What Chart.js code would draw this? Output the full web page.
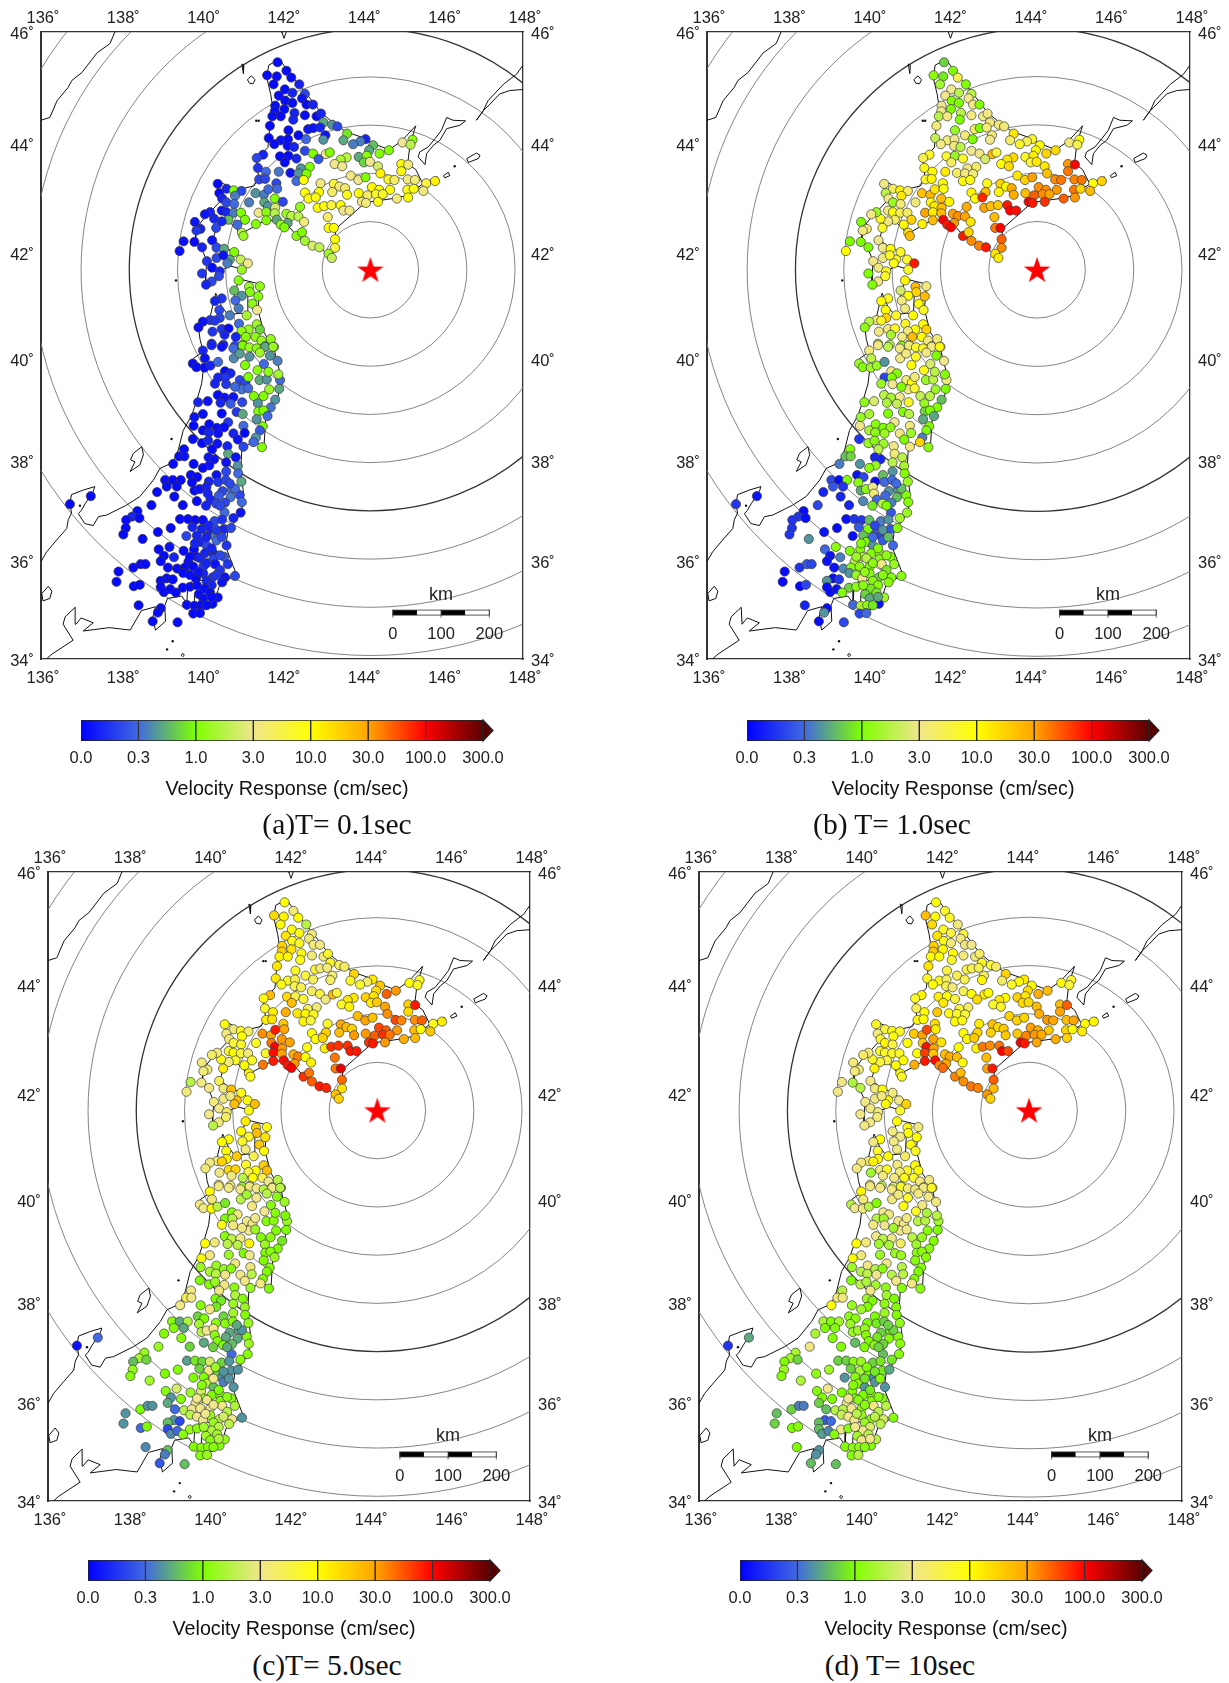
<!DOCTYPE html>
<html>
<head>
<meta charset="utf-8">
<title>Velocity Response maps</title>
<script src="https://cdn.jsdelivr.net/npm/chart.js@4"></script>
<style>
  html, body { margin: 0; padding: 0; background: #fff; overflow: hidden; }
  #page { position: relative; width: 1229px; height: 1683px; }
  canvas { position: absolute; }
  .caption { position: absolute; width: 300px; text-align: center; font: 29.5px "Liberation Serif", serif; color: #111; white-space: pre; }
</style>
</head>
<body>
<div id="page"></div>
<script>
// Stations (degrees)
const stationLon = [
  141.89,142.11,141.63,141.87,142.23,141.79,142.43,142.07,142.26,142.57,
  141.92,142.08,142.50,142.26,142.61,142.77,141.83,142.06,141.82,142.31,
  141.76,141.97,142.57,142.86,142.97,142.28,143.03,143.25,143.38,141.70,
  142.16,142.65,142.78,142.95,143.62,141.67,142.41,143.08,143.03,143.53,
  144.08,143.95,143.77,144.27,142.60,141.97,142.15,141.81,142.14,142.30,
  144.17,144.43,144.66,145.00,145.25,145.20,142.57,142.77,143.09,143.19,
  141.53,141.37,141.95,142.16,142.36,142.07,142.91,143.61,143.46,143.31,
  143.50,143.91,144.11,144.04,144.19,144.39,144.97,145.14,144.97,144.45,
  141.40,141.60,141.92,142.47,142.69,142.21,142.41,142.61,143.71,143.90,
  144.08,141.43,141.58,142.36,142.54,142.96,143.29,143.43,143.57,144.65,
  144.80,145.13,145.31,145.59,145.81,144.24,144.42,144.69,145.12,145.28,
  145.52,141.34,141.55,141.66,141.86,141.88,142.57,142.92,143.25,143.62,
  143.91,144.13,144.34,144.51,145.14,142.66,142.84,144.86,143.99,144.09,
  144.39,142.89,143.05,143.23,143.46,143.53,143.68,141.18,141.56,141.82,
  142.02,141.65,141.83,142.45,141.42,141.61,141.82,142.11,142.23,142.41,
  141.35,141.61,141.87,142.55,142.14,141.97,142.06,143.14,143.16,143.29,
  142.36,142.50,142.57,142.76,142.93,143.32,143.32,143.16,143.24,140.40,
  140.62,140.80,140.99,140.44,140.51,140.62,140.83,140.81,140.50,140.62,
  140.80,140.98,141.08,140.67,140.50,140.31,140.21,140.08,139.83,140.89,
  140.36,139.97,139.87,141.00,141.04,140.26,139.55,139.45,139.82,140.01,
  140.37,140.56,140.81,140.97,141.15,140.70,140.13,140.37,140.54,140.64,
  141.00,140.26,140.45,140.01,140.43,140.25,140.11,140.92,141.18,141.45,
  140.81,141.20,141.00,141.41,140.50,140.33,140.84,141.26,140.44,140.92,
  141.38,141.12,140.70,140.45,140.21,140.03,139.92,140.33,141.37,140.93,
  140.27,140.50,140.67,141.17,140.99,141.45,140.57,140.85,141.10,141.34,
  141.72,141.49,141.58,141.80,141.02,140.83,140.54,140.25,140.03,139.78,
  139.87,140.08,140.07,140.22,140.41,140.58,140.72,140.41,140.59,140.33,
  140.61,140.95,141.09,141.44,141.62,141.95,141.00,141.68,141.93,140.40,
  140.57,140.79,141.01,141.30,141.54,141.83,139.91,140.15,140.47,140.72,
  141.40,141.72,140.03,140.50,140.87,141.02,141.41,141.54,141.64,139.82,
  141.37,140.66,141.52,139.80,140.19,140.38,140.56,141.04,141.45,140.03,
  140.18,140.41,140.79,141.07,141.35,140.90,139.78,140.01,140.16,140.39,
  141.29,141.50,140.64,141.04,140.26,139.56,139.44,139.57,140.66,140.85,
  140.17,140.31,139.29,139.80,140.61,140.19,140.03,140.90,140.91,140.37,
  140.61,139.73,139.89,139.09,139.28,139.48,140.41,140.60,140.99,139.13,
  139.38,139.76,140.18,140.75,140.52,139.82,139.95,140.12,138.89,139.32,
  140.95,140.15,140.43,140.72,139.88,140.22,140.58,141.00,138.75,139.53,
  136.72,137.24,140.11,140.36,140.57,140.97,138.40,138.27,138.45,140.79,
  138.12,139.46,139.66,139.84,140.03,140.32,140.51,138.11,138.91,139.23,
  139.77,140.00,140.56,140.73,138.05,139.62,139.88,140.21,140.33,138.53,
  139.96,140.12,140.37,140.62,138.93,139.20,139.55,139.81,140.08,140.29,
  140.56,139.06,139.31,138.98,139.88,139.67,140.29,138.30,138.48,138.60,
  139.16,140.65,139.39,139.58,140.04,140.34,139.54,137.93,139.71,140.04,
  140.83,140.27,140.58,139.13,139.28,139.86,137.88,138.98,140.12,138.31,
  138.46,140.25,140.51,138.98,139.53,139.71,140.07,139.06,139.22,139.36,
  139.93,140.21,140.40,140.04,138.43,139.63,139.82,139.98,140.27,138.98,
  138.91,139.79,139.96,138.78,139.40,
  140.25,140.50,140.79,141.02,141.19,141.37,141.58,141.78,140.80,140.95,
  141.19,141.45,141.70,141.89,141.08,141.55,141.39,141.66,141.91,141.16,
  141.16,140.83,
  140.17,140.37,140.50,139.83,140.12,140.25,140.46,139.96,140.12,139.79,
  139.92,140.46,140.37,139.88,140.25,140.12,139.71,140.46,140.83,140.70
];
const stationLat = [
  45.47,45.32,45.24,45.22,45.20,45.08,45.08,44.99,44.93,44.91,
  44.88,44.79,44.83,44.75,44.72,44.72,44.70,44.64,44.60,44.57,
  44.51,44.51,44.53,44.51,44.56,44.45,44.40,44.36,44.33,44.34,
  44.26,44.28,44.30,44.31,44.20,44.12,44.17,44.17,44.09,44.08,
  44.10,44.06,44.01,43.99,44.10,44.08,44.10,44.01,43.98,43.96,
  43.90,43.84,43.90,44.04,44.09,44.00,43.89,43.84,43.83,43.86,
  43.82,43.76,43.79,43.80,43.75,43.68,43.74,43.77,43.73,43.65,
  43.61,43.78,43.80,43.68,43.69,43.61,43.65,43.64,43.52,43.48,
  43.58,43.51,43.51,43.57,43.60,43.49,43.48,43.47,43.44,43.36,
  43.41,43.37,43.38,43.34,43.36,43.30,43.29,43.24,43.21,43.37,
  43.36,43.37,43.36,43.30,43.34,43.23,43.18,43.18,43.18,43.20,
  43.16,43.12,43.09,43.19,43.30,43.20,43.13,43.14,43.14,43.09,
  43.12,43.08,43.10,43.10,43.04,43.02,43.04,43.02,42.96,42.94,
  42.96,42.85,42.88,42.90,42.90,42.80,42.80,42.95,42.95,43.02,
  42.96,42.88,42.85,42.87,42.76,42.77,42.75,42.74,42.70,42.69,
  42.55,42.62,42.63,42.59,42.57,42.54,42.49,42.68,42.48,42.48,
  42.33,42.40,42.24,42.15,42.12,42.27,42.11,42.00,41.92,43.29,
  43.20,43.17,43.16,43.12,43.02,42.95,43.07,42.92,42.80,42.77,
  42.76,42.76,42.63,42.63,42.60,42.65,42.77,42.73,42.59,42.54,
  42.48,42.46,42.43,42.39,42.33,42.25,42.23,42.05,42.22,42.12,
  42.11,42.09,42.03,41.89,41.82,41.89,41.86,41.92,41.97,41.82,
  41.70,41.74,41.67,41.63,41.58,41.48,41.42,41.50,41.38,41.39,
  41.31,41.28,41.21,41.20,41.16,41.11,41.12,41.06,40.94,40.97,
  40.94,40.84,40.84,40.79,40.75,40.72,40.61,40.74,40.67,40.68,
  40.53,40.58,40.59,40.57,40.54,40.57,40.47,40.43,40.43,40.43,
  40.39,40.36,40.25,40.24,40.28,40.26,40.28,40.30,40.17,39.92,
  39.85,40.02,39.84,39.88,39.95,39.77,39.73,39.65,39.65,39.53,
  39.52,39.60,39.55,39.60,39.61,39.60,39.42,39.42,39.43,39.31,
  39.26,39.27,39.17,39.29,39.29,39.22,39.17,39.19,39.16,39.14,
  39.15,39.07,38.94,38.95,38.98,38.94,38.99,39.01,38.90,38.88,
  38.84,38.78,38.70,38.71,38.74,38.67,38.68,38.71,38.62,38.62,
  38.58,38.56,38.56,38.57,38.48,38.44,38.45,38.37,38.42,38.36,
  38.39,38.29,38.31,38.30,38.25,38.25,38.11,38.11,38.16,38.09,
  38.09,38.05,37.96,37.96,37.99,37.93,37.88,37.92,37.77,37.74,
  37.81,37.74,37.70,37.64,37.64,37.64,37.60,37.64,37.61,37.51,
  37.51,37.59,37.61,37.45,37.42,37.43,37.46,37.50,37.40,37.31,
  37.34,37.37,37.33,37.30,37.22,37.25,37.19,37.20,37.14,37.14,
  37.16,37.32,37.13,37.17,36.99,36.99,37.02,36.91,36.88,36.88,
  36.84,36.86,36.86,36.84,36.84,36.82,36.85,36.68,36.60,36.68,
  36.70,36.66,36.66,36.68,36.55,36.52,36.53,36.57,36.52,36.46,
  36.40,36.33,36.43,36.33,36.25,36.30,36.22,36.25,36.17,36.17,
  36.10,36.12,36.09,36.01,36.10,36.00,36.05,35.88,35.95,35.95,
  35.88,35.95,35.86,35.88,35.90,35.95,35.77,35.80,35.73,35.76,
  35.71,35.68,35.68,35.66,35.64,35.66,35.59,35.61,35.61,35.50,
  35.53,35.52,35.58,35.48,35.47,35.49,35.45,35.38,35.44,35.37,
  35.34,35.37,35.27,35.25,35.11,35.12,35.10,35.11,35.14,35.05,
  34.96,34.94,34.95,34.78,34.76,
  40.27,40.24,40.21,40.26,40.23,40.21,40.24,40.24,40.02,40.11,
  40.05,40.13,40.07,39.97,39.89,39.91,39.79,39.76,39.71,39.66,
  39.44,39.47,
  36.73,36.64,36.50,36.37,36.50,36.27,36.13,36.07,35.97,35.90,
  35.79,35.83,35.73,35.52,35.28,35.11,36.10,37.13,37.47,37.57
];

// Velocity response at each station (cm/sec)
const responseA = [
  .03,.03,.03,.03,.03,.03,.1,.03,.1,.2,
  .03,.03,.05,.03,.03,.1,.03,.03,.03,.1,
  .03,.03,.03,.03,.1,.1,.6,.5,.2,.03,
  .03,.05,.05,.1,.9,.03,.03,.05,.5,.6,
  .1,.4,.4,.7,.3,.05,.03,.03,.03,.1,
  .6,1,1,3,1.2,2,.2,1,3,1,
  .1,.2,.03,.03,.1,.03,.25,2,1.8,3,
  3,.6,1.2,.8,3,2.5,10,4,9,13,
  .15,.3,.35,.5,1,.05,.5,1,3.5,3,
  1,.2,.2,.3,10,4,7,4,5,8,
  5,4,4,7,13,12,10,9,9,9,
  4,.5,.4,.3,.2,.3,10,10,5,9,
  10,5,8,8,10,10,9,4,3.5,4,
  9,10,9,7,10,3,3.5,.4,.6,1,
  .2,.5,2.5,1.3,3,1.2,2,1.5,2,2,
  1.1,1,.6,4,.6,1.2,1,5,10,10,
  1.2,1,1.7,2.5,2.2,10,7,1.6,2.3,.03,
  .1,1,.2,.03,.1,.2,.4,.3,.05,.1,
  .4,1,1,.7,.1,.1,.1,.05,.05,.3,
  .2,.1,.15,2,1.5,.05,.05,.05,.03,.1,
  .2,.6,1,2.3,3,.6,.15,.2,.05,.4,
  1.5,.03,.1,.15,.2,.2,.1,1.1,1.5,1.3,
  .7,1.2,.5,1.2,.15,.1,.3,1.3,.2,.4,
  3,1.7,.4,.2,.15,.05,.05,.15,1.6,.3,
  .15,.15,.03,1.5,1.3,.8,.1,.1,1.2,1.3,
  1.3,1.5,.5,1.3,1.1,.2,.1,.1,.1,.03,
  .03,.05,.03,.1,.3,.03,.1,.1,.15,.1,
  .15,.2,.2,.6,.5,.3,.35,1.5,.6,.03,
  .05,.05,.2,1,1,.5,.1,.05,.1,.25,
  .5,.35,.05,.03,.15,.6,1,1,.3,.05,
  .5,.15,1,.03,.03,.03,.03,.3,.25,.03,
  .1,.05,.1,.03,.5,.05,.03,.03,.1,.05,
  .3,1.1,.1,.2,.03,.03,.03,.05,.6,.05,
  .05,.05,.03,.03,.05,.05,.03,.5,.3,.05,
  .2,.03,.03,.03,.03,.03,.15,.2,.6,.03,
  .03,.03,.1,.3,.2,.03,.05,.1,.03,.03,
  .2,.1,.25,.35,.03,.1,.2,.3,.03,.03,
  .03,.03,.1,.2,.3,.05,.03,.1,.03,.1,
  .03,.03,.03,.03,.03,.2,.15,.03,.03,.03,
  .1,.1,.1,.2,.03,.2,.1,.1,.4,.03,
  .1,.2,.3,.15,.03,.05,.03,.03,.1,.1,
  .25,.03,.1,.03,.03,.03,.2,.03,.03,.03,
  .03,.15,.03,.03,.15,.05,.03,.03,.03,.1,
  .2,.15,.05,.03,.03,.02,.03,.03,.1,.03,
  .03,.1,.05,.03,.03,.03,.03,.03,.03,.03,
  .03,.03,.03,.03,.03,.03,.03,.03,.03,.03,
  .03,.03,.03,.03,.03,
  .1,.05,.3,1,1.5,1.2,.6,1.5,.45,.55,
  .5,1.6,.5,.4,1,.3,1.2,1.3,1.6,1,
  .3,.3,
  .1,.15,.2,.1,.1,.1,.2,.1,.1,.02,
  .05,.15,.15,.03,.03,.03,.03,.2,.3,.2
];
const responseB = [
  .8,1,1.2,.9,6,1.6,1,3,2,2,
  3,1,3.5,1,3.5,1,3,1,3,2,
  2,3.5,3.5,3.2,3.5,1,4,4,4,4,
  1.5,5,1,4,15,2.2,4,4,3,5,
  8,6,8,10,1,4,3,3.5,4,2,
  10,20,18,4,10,6,3,3.5,25,7,
  8,6,8,1.5,8,5,2.5,18,15,10,
  18,8,14,7,15,15,35,100,50,24,
  9,10,15,3.5,5,5,4,4,15,20,
  32,8,12,10,9,9,20,10,28,40,
  50,45,50,10,20,40,40,35,50,20,
  25,24,26,16,10,9,12,25,12,28,
  25,60,40,30,35,10,85,60,110,90,
  80,30,25,22,90,100,95,4,12,25,
  12,15,25,28,30,14,25,30,40,30,
  13,25,100,16,35,90,100,25,50,100,
  90,20,40,45,90,60,40,16,14,3.5,
  5,12,5,2,3.5,1.5,15,4,4,10,
  6,5,20,5,3.5,9,1.5,3.5,1,10,
  8,4,4,15,25,3,1,10,1,1,
  3.5,10,8,8,90,8,3.5,3.5,8,9,
  8,3.5,8,1,8,3.5,1,12,25,4,
  2.5,20,10,25,8,10,3.5,10,10,4,
  8,11,8,20,3.5,2,1.3,8,10,8,
  3.5,4,8,10,4,20,1.7,3.5,25,10,
  4,3.5,3.5,3.5,3.5,1.2,2,2,4,1.5,
  1.1,2,1.6,1.5,.5,3.5,1.2,.2,1,1.5,
  3,4,10,1.5,2,3.5,3.5,1.5,1,2,
  1.7,3,8,2.2,2,.7,1.3,2.5,1.8,2.2,
  1.5,1,1.7,1,1,2,.8,1,.6,1.5,
  .6,3,1,3,1.2,1,1.3,3.5,1,1.7,
  1.3,1.5,3.5,1.5,.4,1,.15,1.5,1.2,1.5,
  20,1.2,3,3.5,2,1.1,.7,.8,4,2,
  .1,.1,.4,.5,2,1.5,1.2,1.7,1.1,.7,
  .5,.05,.2,.2,.03,1.1,.3,.3,1.5,.25,
  .15,1.2,.03,.5,.5,.6,1.3,3,.1,.1,
  1.1,4,.3,.7,.45,.3,.4,1.1,.2,.1,
  .15,.05,.9,2,.25,1.5,.03,.15,.03,1.6,
  .15,.05,.15,.15,.7,.4,.5,.15,.05,.03,
  .25,1,.25,1.1,.15,.03,.7,.25,.2,.5,
  1,.5,.25,.3,.3,1.2,1,1.1,1.1,1.5,
  1,.05,.4,.05,2,2.2,1.3,.15,.25,.2,
  .05,1.5,.45,1.2,1.1,3.5,.5,.03,1.5,1.2,
  1.2,.8,1.2,.03,.15,3,.03,.5,1.1,.03,
  .2,1.1,1.1,.03,.8,1.2,.9,.03,.05,1.1,
  .8,.9,1.5,.6,.1,.3,1.7,1.3,.05,.03,
  .5,.2,.3,.03,.2,
  3.5,2,3.5,4,8,8,3.5,9,3.5,3.5,
  8,3.5,1,3,10,2.5,9,2,1.1,4,
  8,1,
  .2,.5,.7,1,.3,1.1,1.3,2,1.2,1.3,
  1.3,.9,1.2,1.2,.6,.9,1.5,1,.7,.3
];
const responseC = [
  10,4,18,12,10,10,2,9,9,4,
  16,9,4,8,4,3.5,20,16,20,9,
  12,12,4,4,8,9,8,6,5,16,
  8,7,4,4,20,15,7,4,5,8,
  15,5,8,22,5,8,6,9,6,6,
  18,60,35,10,8,8,5,7,25,7,
  25,9,18,6,7,25,4,15,15,8,
  12,20,16,15,22,30,20,90,18,40,
  8,14,28,6,4,15,12,8,25,30,
  24,14,16,12,7,8,30,25,20,70,
  45,40,60,9,14,70,60,35,25,10,
  22,40,30,90,22,30,10,20,25,35,
  35,60,80,50,25,10,20,28,80,90,
  35,13,80,80,80,90,90,8,50,35,
  30,100,35,9,8,95,30,28,45,10,
  50,90,95,13,35,90,110,50,50,130,
  80,50,60,90,85,55,16,24,20,9,
  4,9,5,3.5,4,7,10,8,8,10,
  7,4,8,8,4,9,4,5,4,10,
  14,4,4,12,9,6,2,4,3.5,3.5,
  4,25,9,10,25,25,4,3.5,3.5,25,
  9,3.5,5,3.5,5,4,2,14,20,9,
  10,25,8,16,10,10,8,22,10,4,
  10,6,22,12,4,3.5,4,20,20,8,
  3.5,18,20,10,6,25,4,2,10,6,
  2,3,1,1.7,3,1.5,3.5,4,10,3.5,
  3.5,4,11,2,.9,1.2,3.5,1,2,9,
  4,3,3.5,1.1,1.2,1.5,3,1,1,1.2,
  2,3.5,12,1.1,1.2,.9,10,4,2,2,
  1.5,1,3.5,1.5,1,3,1,1.1,1.5,10,
  1,3.5,1.2,1.5,1.5,1.5,1.2,3.5,1,1.7,
  2,3,3.5,2,1,3.5,1,1,1.5,3.5,
  3.5,1,1.2,1.5,3.5,3.5,6,3.5,1.8,1.1,
  1,.9,3.5,1.1,1.5,.9,3.5,1.5,1,.8,
  1.6,.8,1,1.2,.6,1.8,1.2,1.1,1.4,1.1,
  .6,1.6,1.2,.6,.6,2,3,3.5,1,1.1,
  1.2,1.2,.6,.6,.6,1.1,.7,1.5,1.5,.8,
  .05,.3,.8,1,.3,1.1,1.4,1.6,.8,1.2,
  .7,.55,.9,.8,2.5,.8,.5,1.4,1,1.1,
  .8,3.5,.5,.5,1.1,1,1,.8,.5,1.6,
  2,.7,.4,.5,1.2,2.5,1.5,2.5,1,1.1,
  1.3,.5,1.1,.6,1.3,3,1,1,.5,.5,
  .3,1.8,2,3,3,3.5,2,.5,3,1.5,
  .5,2,3,.5,.2,3,.5,.7,1.5,.3,
  1,2,2,.2,1.5,1.2,1.8,.45,.3,1.2,
  1.6,1.6,1.4,1.2,.45,1,1.1,1.1,1.2,.7,
  .4,1.1,1.4,.25,.7,
  4,3.5,3.5,3.5,3.5,2,3,2,2,1.6,
  3,2,1.2,1.5,3.5,1.2,3,1.1,1,3,
  1.5,3.5,
  1.5,.5,.5,1.1,3,1,1.3,3,3,3,
  3,2,2.5,1.6,1.8,1.1,3,.6,.5,.6
];
const responseD = [
  10,8,25,10,8,18,4,8,7,7,
  16,9,4,4,3.5,3,20,12,22,10,
  10,10,4,4,5,8,8,8,5,16,
  7,6,6,6,20,8,6,5,12,5,
  15,10,8,10,6,9,5,10,6,4,
  18,28,25,10,8,7,6,10,15,10,
  12,8,14,10,7,15,18,10,15,8,
  8,20,15,18,18,25,25,60,30,28,
  6,10,22,7,5,9,8,7,20,20,
  20,12,10,10,9,14,24,18,22,35,
  30,25,30,11,12,32,28,22,20,10,
  14,22,30,70,18,14,10,20,20,22,
  22,45,35,28,20,12,22,28,100,90,
  30,12,50,40,50,100,70,10,22,30,
  16,95,30,10,10,75,22,24,28,25,
  28,90,95,11,30,40,55,25,30,90,
  45,25,40,50,45,60,25,35,20,8,
  7,9,8,4,8,12,9,7,8,8,
  8,8,10,7,7,8,4,5,4,10,
  12,4,4,9,8,3.5,3.5,3.5,1.8,2,
  4,9,4,3.5,20,10,3.5,3.5,3.5,10,
  8,3.5,4,3.5,4,3.5,3.5,10,10,4,
  3.5,10,3.5,10,10,3.5,3.5,11,8,3.5,
  8,5,10,11,4,4,3.5,12,10,4,
  1.6,3.5,8,8,4,10,3.5,3.5,9,8,
  3.5,3.5,3.5,8,2,2.5,2,3.5,12,2,
  3,4,4,2,1,3,3.5,2,1.6,3.5,
  3,3.5,3,2,2,1.6,3,1.1,1,3,
  2,3,5,2,1.5,1,10,4,1.6,1.7,
  1.6,1.2,4,1.5,1.5,1.5,1.2,1.2,1.1,11,
  1.1,3,1.1,1.6,3.5,2,1.1,2,1,2,
  2,3,2,2,1,3,1.1,2,1.8,1.6,
  3.5,1.1,1.3,1.2,3.5,2,4,3.5,1.6,1,
  1.5,1,10,1.5,1.3,1,1.6,1.1,1,1,
  1.5,1.2,1.2,1.8,1,1.6,.9,.8,1.3,1,
  1.1,1.5,1,.9,.8,1.5,1.6,1.4,1.7,1.1,
  1.2,1.1,.9,1,.7,1,.8,1.2,3.5,1,
  .15,.6,1,1.2,.7,1.1,1.7,1.6,.8,.9,
  1,.8,.8,1.2,1.5,.8,.9,1.5,1.3,1.6,
  .8,1.7,.9,.6,1.1,.5,1.2,1,.45,1.8,
  1.2,.5,.5,.5,1.1,3,1,1.1,1,1.1,
  1.2,1,1,.8,1,3,1.1,.8,.4,.4,
  .7,2,2,2,1.3,3.5,2.2,.7,3,1.5,
  1.1,1.1,2.5,.25,.3,3,.8,.7,1.5,1,
  1.2,2.5,2,.7,3,1.2,3,.55,.45,1.1,
  1.6,2,2,3,1,1.1,1.2,1.3,1.1,.5,
  .5,1.1,2,.7,.7,
  4,3.5,3.5,8,4,3.5,3.5,8,3.5,3.5,
  8,3.5,3.5,3.5,9,3.5,8,1.8,2,3.5,
  3.5,1.6,
  1,.9,1.1,1.1,.9,.9,1.1,1.2,1.2,3,
  2,2,2,3,3,1.2,3,.8,.8,.8
];

// Epicentre and distance rings
const epicenterLon = [144.2];
const epicenterLat = [41.7];
const ringRadiiKm = [100, 200, 300, 400, 500, 600, 700, 800];
const kmPerDegLon = 83.3;

// Axis ticks
const lonTicks = [136, 138, 140, 142, 144, 146, 148];
const latTicks = [34, 36, 38, 40, 42, 44, 46];
const scaleBarKm = [0, 100, 200];

// Colour scale
const colorbarLabels = ["0.0", "0.3", "1.0", "3.0", "10.0", "30.0", "100.0", "300.0"];
const colorbarValues = [0, 0.3, 1, 3, 10, 30, 100, 300];
const colorbarColors = ["#0000ff", "#4169e1", "#7fff00", "#f0e68c", "#ffff00", "#ffa500", "#ff0000", "#5a0000"];

// Coastlines (lon, lat)
const hokkaidoCoast = [[141.94,45.52],[141.67,45.42],[141.62,45.2],[141.72,44.9],[141.78,44.62],[141.7,44.36],[141.65,43.95],[141.52,43.85],[141.36,43.72],[141.42,43.4],[141.3,43.25],[141.0,43.2],[140.8,43.2],[140.52,43.3],[140.35,43.35],[140.5,43.0],[140.25,42.8],[140.12,42.72],[139.85,42.45],[139.85,42.28],[139.98,42.12],[140.13,41.87],[140.1,41.6],[140.1,41.42],[140.2,41.4],[140.25,41.48],[140.43,41.67],[140.72,41.77],[140.95,41.72],[141.18,41.8],[141.0,41.92],[140.82,42.04],[140.58,42.1],[140.28,42.26],[140.38,42.52],[140.7,42.58],[140.87,42.47],[140.97,42.32],[141.1,42.42],[141.35,42.52],[141.6,42.63],[141.9,42.6],[142.2,42.48],[142.37,42.33],[142.77,42.16],[142.93,42.12],[143.25,41.92],[143.32,42.3],[143.35,42.47],[143.67,42.68],[144.08,42.95],[144.38,42.98],[144.85,43.03],[145.12,43.08],[145.58,43.33],[145.82,43.38],[145.5,43.3],[145.33,43.55],[145.13,43.66],[145.19,44.02],[145.33,44.34],[144.98,44.07],[144.67,43.91],[144.27,44.02],[144.05,44.12],[143.6,44.23],[143.35,44.35],[142.97,44.58],[142.58,44.94],[142.37,45.12],[142.13,45.33],[141.94,45.52]];
const honshuCoast = [[136,36.0],[136.14,36.2],[136.39,36.44],[136.64,36.67],[136.68,36.85],[136.76,36.98],[136.72,37.18],[136.76,37.35],[137.05,37.44],[137.34,37.51],[137.3,37.41],[137.1,37.17],[137.0,37.03],[136.93,36.97],[137.09,36.77],[137.3,36.73],[137.43,36.91],[137.63,36.94],[138.13,37.14],[138.46,37.31],[138.8,37.64],[138.96,37.87],[139.29,37.99],[139.42,38.24],[139.54,38.62],[139.75,38.91],[139.88,39.21],[140.0,39.53],[140.04,39.79],[139.95,39.86],[139.71,39.95],[139.8,40.02],[140.04,40.15],[139.96,40.38],[139.92,40.61],[140.2,40.78],[140.3,41.1],[140.35,41.26],[140.5,41.0],[140.66,40.85],[140.95,40.88],[141.13,40.87],[141.15,41.25],[140.8,41.15],[140.92,41.53],[141.46,41.43],[141.4,40.95],[141.55,40.52],[141.8,40.2],[141.98,39.65],[141.9,39.27],[141.6,38.9],[141.55,38.3],[141.3,38.42],[141.0,38.25],[140.97,37.8],[141.04,37.4],[141.0,37.0],[140.65,36.6],[140.6,36.3],[140.87,35.73],[140.46,35.55],[140.3,35.15],[139.88,34.92],[139.82,35.0],[139.82,35.3],[140.1,35.6],[139.8,35.65],[139.65,35.45],[139.63,35.15],[139.5,35.3],[139.15,35.25],[139.08,35.1],[139.1,34.78],[138.85,34.6],[138.78,34.85],[138.85,35.08],[138.5,35.0],[138.22,34.6],[137.7,34.65],[137.05,34.58],[137.3,34.75],[137.0,34.85],[136.87,34.72],[136.85,35.07],[136.6,34.87],[136.55,34.72],[136.8,34.39],[136.27,34.1],[136,33.9]];
const primoryeCoast = [[137.84,46],[137.72,45.8],[137.39,45.63],[137.02,45.29],[136.77,45.15],[136.67,45.02],[136.4,44.79],[136.22,44.49],[136,44.44]];
const sakhalinTip = [[142,46.1],[142.0,45.99],[142.05,45.89],[142.1,45.99],[142.1,46.1]];
const rishiriCoast = [[141.16,45.18],[141.24,45.23],[141.33,45.16],[141.28,45.09],[141.19,45.1],[141.14,45.16],[141.16,45.18]];
const rebunCoast = [[141.0,45.44],[141.05,45.42],[141.04,45.27],[141.0,45.44]];
const kunashiriCoast = [[145.43,43.87],[145.39,43.78],[145.56,43.64],[145.6,43.84],[145.77,43.99],[145.93,44.08],[146.1,44.29],[146.43,44.35],[146.57,44.43],[146.26,44.44],[146.1,44.49],[145.97,44.26],[145.81,44.11],[145.64,43.96],[145.43,43.87]];
const shikotanCoast = [[146.6,43.75],[146.84,43.85],[146.93,43.81],[146.89,43.75],[146.64,43.68],[146.6,43.75]];
const etorofuCoast = [[146.84,44.44],[147.01,44.61],[147.13,44.79],[147.51,45.08],[147.84,45.26],[147.99,45.41],[148.2,45.0],[147.67,44.97],[147.42,44.91],[147.18,44.73],[147.01,44.61],[146.84,44.44]];
const habomaiCoast = [[146.02,43.44],[146.14,43.5],[146.18,43.44],[146.05,43.4],[146.02,43.44]];
const sadoCoast = [[138.51,38.3],[138.3,38.17],[138.23,38.04],[138.34,38.0],[138.22,37.81],[138.46,37.94],[138.55,38.14],[138.51,38.3]];
const biwaCoast = [[136.02,35.35],[136.18,35.5],[136.27,35.4],[136.22,35.25],[136.05,35.2],[136.02,35.35]];
const miyakeCoast = [[139.49,34.08],[139.53,34.12],[139.57,34.08],[139.53,34.05],[139.49,34.08]];
const tinyIslands = [[141.36,44.43],[141.42,44.43],[139.36,41.5],[139.25,38.45],[139.28,34.37],[139.14,34.2],[146.3,43.61],[145.86,43.4],[136.97,37.13]];

// Mercator latitude axis: the map's parallels are spaced this way
const mercator = (lat) => Math.log(Math.tan(Math.PI / 4 + (lat * Math.PI) / 360));
class MercatorScale extends Chart.LinearScale {
  getPixelForValue(value) {
    const lo = mercator(this.min);
    const hi = mercator(this.max);
    return this.getPixelForDecimal((mercator(value) - lo) / (hi - lo));
  }
}
MercatorScale.id = "mercator";
MercatorScale.defaults = {};
Chart.register(MercatorScale);

Chart.defaults.font.family = '"Liberation Sans", Arial, sans-serif';
Chart.defaults.color = "#222";
Chart.defaults.animation = false;

function responseColor(v) {
  const hex = (h, i) => parseInt(h.substr(1 + i * 2, 2), 16);
  let k = 0;
  while (k < colorbarValues.length - 2 && v > colorbarValues[k + 1]) k++;
  const t = Math.min(1, (v - colorbarValues[k]) / (colorbarValues[k + 1] - colorbarValues[k]));
  const c = [0, 1, 2].map((i) => Math.round(hex(colorbarColors[k], i) * (1 - t) + hex(colorbarColors[k + 1], i) * t));
  return `rgb(${c[0]},${c[1]},${c[2]})`;
}

// red five-pointed marker for the epicentre
const starMarker = document.createElement("canvas");
starMarker.width = 28;
starMarker.height = 28;
(function () {
  const c = starMarker.getContext("2d");
  c.fillStyle = "#ff0000";
  c.beginPath();
  for (let i = 0; i < 10; i++) {
    const r = i % 2 ? 5.4 : 14;
    const a = -Math.PI / 2 + (i * Math.PI) / 5;
    c.lineTo(14 + r * Math.cos(a), 15 + r * Math.sin(a));
  }
  c.closePath();
  c.fill();
})();

const ringsPlugin = {
  id: "rings",
  beforeDatasetsDraw(chart) {
    const { ctx, chartArea: a, scales } = chart;
    const cx = scales.x.getPixelForValue(epicenterLon[0]);
    const cy = scales.y.getPixelForValue(epicenterLat[0]);
    const pxPerKm = (scales.x.getPixelForValue(epicenterLon[0] + 1) - cx) / kmPerDegLon;
    ctx.save();
    ctx.beginPath();
    ctx.rect(a.left, a.top, a.width, a.height);
    ctx.clip();
    ringRadiiKm.forEach((km) => {
      ctx.beginPath();
      ctx.arc(cx, cy, km * pxPerKm, 0, Math.PI * 2);
      ctx.lineWidth = km === 500 ? 1.3 : 0.9;
      ctx.strokeStyle = km === 500 ? "#333" : "#777";
      ctx.stroke();
    });
    ctx.restore();
  },
};

const scaleBarPlugin = {
  id: "scaleBar",
  afterDatasetsDraw(chart) {
    const { ctx, scales } = chart;
    const x0 = scales.x.getPixelForValue(144.76);
    const y0 = scales.y.getPixelForValue(34.96);
    const pxPerKm = (scales.x.getPixelForValue(145.76) - x0) / kmPerDegLon;
    const wide = scaleBarKm[2] * pxPerKm;
    ctx.save();
    for (let i = 0; i < 4; i++) {
      ctx.fillStyle = i % 2 ? "#fff" : "#000";
      ctx.fillRect(x0 + (i * wide) / 4, y0 - 2.5, wide / 4, 5);
    }
    ctx.strokeStyle = "#333";
    ctx.lineWidth = 0.8;
    ctx.strokeRect(x0, y0 - 2.5, wide, 5);
    ctx.fillStyle = "#222";
    ctx.font = '16.5px "Liberation Sans"';
    ctx.textAlign = "center";
    ctx.textBaseline = "middle";
    scaleBarKm.forEach((km) => {
      const x = x0 + km * pxPerKm;
      ctx.beginPath();
      ctx.moveTo(x, y0 - 3);
      ctx.lineTo(x, y0 + 5);
      ctx.stroke();
      ctx.fillText(String(km), x, y0 + 22);
    });
    ctx.font = '18px "Liberation Sans"';
    ctx.fillText("km", x0 + wide / 2, y0 - 18);
    ctx.restore();
  },
};

function addCanvas(id, left, top, width, height) {
  const cv = document.createElement("canvas");
  cv.id = id;
  cv.width = width;
  cv.height = height;
  cv.style.left = left + "px";
  cv.style.top = top + "px";
  document.getElementById("page").appendChild(cv);
  return cv.getContext("2d");
}

function coastDataset(points) {
  return {
    type: "scatter",
    data: points.map((p) => ({ x: p[0], y: p[1] })),
    showLine: true,
    borderColor: "#111",
    borderWidth: 1,
    pointRadius: 0,
    fill: false,
  };
}

function drawMap(id, values, frame) {
  const padLeft = 41, padTop = 32;
  const canvasLeft = frame.left - padLeft;
  const canvasTop = frame.top - padTop;
  const padRight = Math.min(52, 1229 - frame.right);
  const padBottom = 32;
  const width = frame.right - frame.left + padLeft + padRight;
  const height = frame.bottom - frame.top + padTop + padBottom;
  const ctx = addCanvas(id, canvasLeft, canvasTop, width, height);

  const tickFont = { size: 16.5 };
  const frameBorder = (w) => ({ display: true, color: "#333", width: w });
  const lonScale = (position, padding, size) => ({
    type: "linear", position, min: 136, max: 148,
    grid: { display: false, drawTicks: false },
    border: frameBorder(1.3),
    afterBuildTicks: (s) => { s.ticks = lonTicks.map((v) => ({ value: v })); },
    ticks: { font: tickFont, padding, labelOffset: 2, maxRotation: 0, autoSkip: false, callback: (v) => v + "˚" },
    afterFit: (s) => { s.height = size; },
  });
  const latScale = (position, padding, size, w) => ({
    type: "mercator", position, min: 34, max: 46,
    grid: { display: false, drawTicks: false },
    border: frameBorder(w),
    afterBuildTicks: (s) => { s.ticks = latTicks.map((v) => ({ value: v })); },
    ticks: { font: tickFont, padding, labelOffset: 2, autoSkip: false, callback: (v) => v + "˚" },
    afterFit: (s) => { s.width = size; },
  });

  new Chart(ctx, {
    type: "scatter",
    data: {
      datasets: [
        {
          data: epicenterLon.map((lon, i) => ({ x: lon, y: epicenterLat[i] })),
          pointStyle: starMarker,
          pointRadius: 14,
          order: -1,
        },
        {
          data: stationLon.map((lon, i) => ({ x: lon, y: stationLat[i] })),
          backgroundColor: values.map(responseColor),
          borderColor: "#3a3a3a",
          borderWidth: 0.7,
          pointRadius: 4.6,
          order: 0,
        },
        ...[hokkaidoCoast, honshuCoast, primoryeCoast, sakhalinTip, rishiriCoast, rebunCoast, kunashiriCoast,
          shikotanCoast, etorofuCoast, habomaiCoast, sadoCoast, biwaCoast, miyakeCoast].map((c) => ({ ...coastDataset(c), order: 2 })),
        {
          data: tinyIslands.map((p) => ({ x: p[0], y: p[1] })),
          backgroundColor: "#111",
          pointRadius: 1.2,
          pointBorderWidth: 0,
          order: 2,
        },
      ],
    },
    options: {
      responsive: false,
      layout: { padding: 0 },
      plugins: { legend: { display: false }, tooltip: { enabled: false } },
      scales: {
        x: lonScale("bottom", 10, padBottom),
        x2: lonScale("top", 4, padTop),
        y: latScale("left", 7, padLeft, 2),
        y2: latScale("right", 8, padRight, 1.3),
      },
    },
    plugins: [ringsPlugin, scaleBarPlugin],
  });
}

const arrowTipPlugin = {
  id: "arrowTip",
  afterDatasetsDraw(chart) {
    const { ctx, chartArea: a, scales } = chart;
    const base = scales.x.getPixelForValue(7);
    ctx.save();
    ctx.beginPath();
    ctx.moveTo(base, a.top);
    ctx.lineTo(a.right, (a.top + a.bottom) / 2);
    ctx.lineTo(base, a.bottom);
    ctx.closePath();
    ctx.fillStyle = colorbarColors[7];
    ctx.fill();
    ctx.strokeStyle = "#222";
    ctx.lineWidth = 1.2;
    ctx.stroke();
    ctx.restore();
  },
};

function drawColorbar(id, barLeft, barTop) {
  const canvasLeft = barLeft - 50;
  const canvasTop = barTop - 21;
  const width = 510, height = 105;
  const barWidth = 402, tipWidth = 10, barHeight = 21;
  const ctx = addCanvas(id, canvasLeft, canvasTop, width, height);
  const segments = colorbarLabels.slice(0, -1);
  const axisMax = (7 * (barWidth + tipWidth)) / barWidth;
  new Chart(ctx, {
    type: "bar",
    data: {
      labels: [""],
      datasets: segments.map((_, i) => ({
        data: [1],
        borderColor: "#222",
        borderWidth: 1,
        borderSkipped: false,
        barPercentage: 1,
        categoryPercentage: 1,
        backgroundColor: (c) => {
          const x = c.chart.scales.x;
          const x0 = x ? x.getPixelForValue(i) : NaN;
          const x1 = x ? x.getPixelForValue(i + 1) : NaN;
          if (!Number.isFinite(x0) || !Number.isFinite(x1)) return colorbarColors[i];
          const g = c.chart.ctx.createLinearGradient(x0, 0, x1, 0);
          g.addColorStop(0, colorbarColors[i]);
          g.addColorStop(1, colorbarColors[i + 1]);
          return g;
        },
      })),
    },
    options: {
      indexAxis: "y",
      responsive: false,
      layout: { padding: { left: 50, right: width - 50 - barWidth - tipWidth, top: 21, bottom: 0 } },
      plugins: { legend: { display: false }, tooltip: { enabled: false } },
      scales: {
        x: {
          type: "linear", stacked: true, min: 0, max: axisMax,
          grid: { display: false, drawTicks: false },
          border: { display: false },
          afterBuildTicks: (s) => { s.ticks = colorbarLabels.map((_, i) => ({ value: i })); },
          ticks: { font: { size: 16.5 }, padding: 8, maxRotation: 0, autoSkip: false, callback: (v) => colorbarLabels[v] },
          title: { display: true, text: "Velocity Response (cm/sec)", font: { size: 19.7 }, color: "#111", padding: { top: 0, bottom: 3 } },
          afterFit: (s) => { s.height = height - 21 - barHeight; },
        },
        y: { display: false, stacked: true },
      },
    },
    plugins: [arrowTipPlugin],
  });
}

function addCaption(text, centerX, centerY) {
  const d = document.createElement("div");
  d.className = "caption";
  d.textContent = text;
  d.style.left = centerX - 150 + "px";
  d.style.top = centerY - 17 + "px";
  document.getElementById("page").appendChild(d);
}

drawMap("mapA", responseA, { left: 41, right: 523, top: 32, bottom: 659 });
drawMap("mapB", responseB, { left: 707, right: 1190, top: 32, bottom: 659 });
drawMap("mapC", responseC, { left: 48, right: 530, top: 872, bottom: 1501 });
drawMap("mapD", responseD, { left: 699, right: 1182, top: 872, bottom: 1501 });

drawColorbar("barA", 81, 720);
drawColorbar("barB", 747, 720);
drawColorbar("barC", 88, 1560);
drawColorbar("barD", 740, 1560);

addCaption("(a)T= 0.1sec", 337, 825);
addCaption("(b) T= 1.0sec", 892, 825);
addCaption("(c)T= 5.0sec", 327, 1666);
addCaption("(d) T= 10sec", 900, 1666);
</script>
</body>
</html>
